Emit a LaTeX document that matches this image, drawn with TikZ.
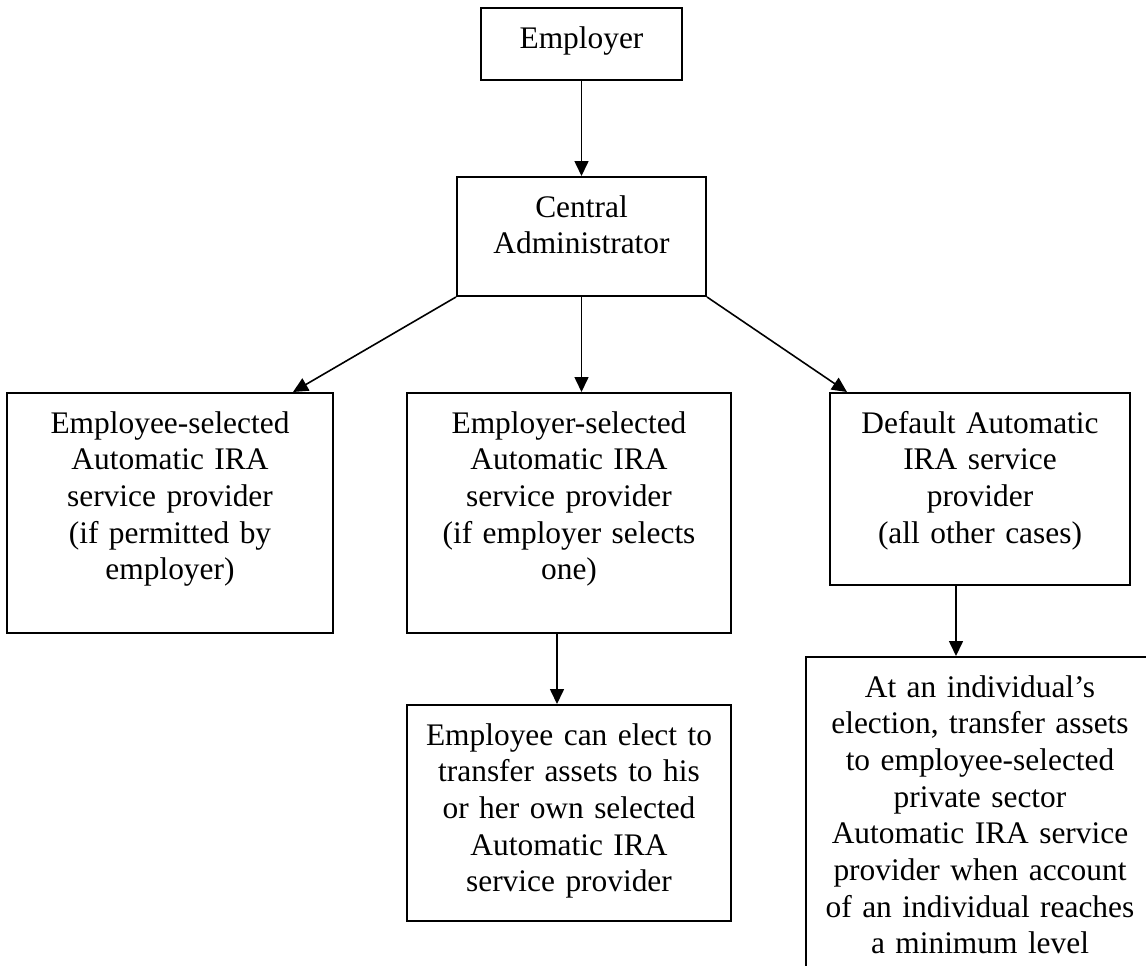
\documentclass[tikz,border=0pt]{standalone}
\usepackage{fontspec}
\setmainfont{Liberation Serif}
\usetikzlibrary{arrows.meta,positioning}
\begin{document}
\begin{tikzpicture}[x=0.5pt, y=-0.5pt, >={Triangle[length=7.5pt,width=7pt]}, font={\fontsize{15.7}{18.35}\selectfont}]
	\tikzset{box/.style={draw, line width=1pt, align=center, anchor=north, inner sep=0pt, text height=20pt}}
	\tikzset{link/.style={->, line width=0.8pt}}
	\useasboundingbox (0,0) rectangle (1146,965);
	\clip (0,0) rectangle (1146,965);
	% top of the chart
	\node[box, text width=100.5pt, text depth=16pt] (emp) at (581.5,7) {Employer};
	\node[box, text width=124.5pt, text depth=39.5pt] (cadm) at (581.5,176) {Central\\Administrator};
	% the three service providers
	\node[box, text width=163pt, text depth=100pt] (eesel) at (170,392) {Employee-selected\\Automatic IRA\\service provider\\(if permitted by\\employer)};
	\node[box, text width=162pt, text depth=100pt] (ersel) at (569,392) {Employer-selected\\Automatic IRA\\service provider\\(if employer selects\\one)};
	\node[box, text width=150pt, text depth=76pt] (dflt) at (980,392) {Default Automatic\\IRA service\\provider\\(all other cases)};
	% transfers
	\node[box, text width=162pt, text depth=88pt] (elect) at (569,704) {Employee can elect to\\transfer assets to his\\or her own selected\\Automatic IRA\\service provider};
	\node[box, text width=174pt, text depth=147pt] (indiv) at (980,656) {At an individual’s\\election, transfer assets\\to employee-selected\\private sector\\Automatic IRA service\\provider when account\\of an individual reaches\\a minimum level};
	\draw[link] (emp) -- (cadm);
	\draw[link] (cadm.south west) -- ([xshift=-20.5pt]eesel.north east);
	\draw[link] (cadm.south) -- (cadm.south |- ersel.north);
	\draw[link] (cadm.south east) -- ([xshift=9pt]dflt.north west);
	\draw[link] ([xshift=-6pt]ersel.south) -- ([xshift=-6pt]ersel.south |- elect.north);
	\draw[link] ([xshift=-12pt]dflt.south) -- ([xshift=-12pt]dflt.south |- indiv.north);
\end{tikzpicture}
\end{document}
